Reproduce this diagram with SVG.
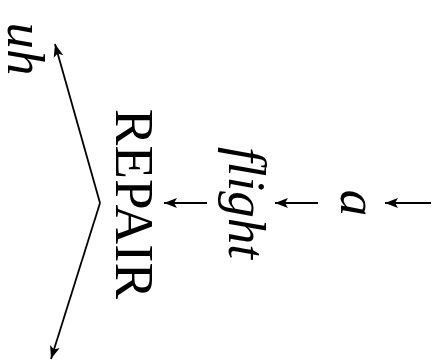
<svg xmlns="http://www.w3.org/2000/svg" width="439" height="360" viewBox="0 0 439 360">
<style>
.lbl{font-family:"Liberation Serif","Times New Roman",serif;font-size:53px;fill:#000;text-anchor:middle}
.it{font-style:italic}
.edge{stroke:#000;stroke-width:1.8;fill:none}
</style>
<defs>
<marker id="ah" markerUnits="userSpaceOnUse" markerWidth="16" markerHeight="12" refX="13" refY="6" orient="auto">
<path d="M0,1 L13,6 L0,11 L3,6 Z" fill="#000"/>
</marker>
</defs>
<rect width="439" height="360" fill="#fff"/>
<g id="connectors">
<line class="edge" x1="431" y1="203" x2="385" y2="203" marker-end="url(#ah)"/>
<line class="edge" x1="318" y1="203" x2="275" y2="203" marker-end="url(#ah)"/>
<line class="edge" x1="207" y1="203" x2="164" y2="203" marker-end="url(#ah)"/>
<line class="edge" x1="100" y1="203" x2="55" y2="44" marker-end="url(#ah)"/>
<line class="edge" x1="100" y1="203" x2="51" y2="359" marker-end="url(#ah)"/>
</g>
<g id="node-a"><text class="lbl it" transform="translate(341,203) rotate(90)">a</text></g>
<g id="node-flight"><text class="lbl it" transform="translate(229,203) rotate(90)">flight</text></g>
<g id="node-repair"><text class="lbl" style="font-size:55px" transform="translate(116,204) rotate(90)">REPAIR</text></g>
<g id="node-uh"><text class="lbl it" transform="translate(8,49) rotate(90)">uh</text></g>
</svg>
